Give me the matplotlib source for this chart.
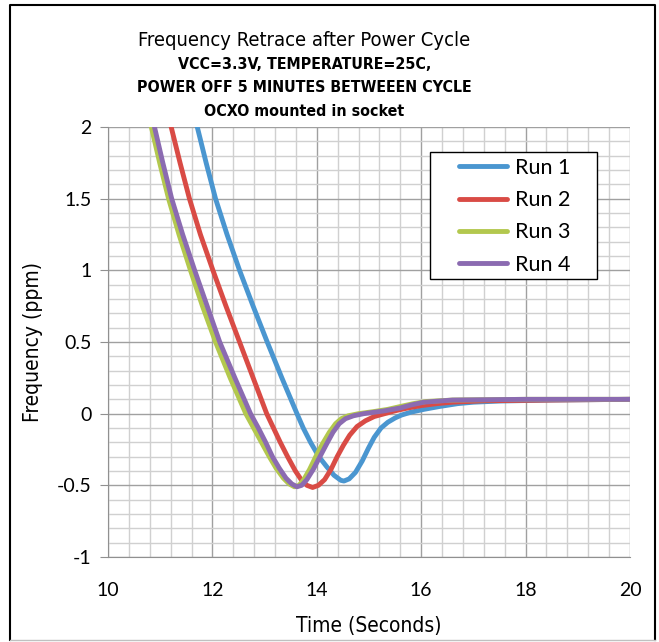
import matplotlib.pyplot as plt
from matplotlib.lines import Line2D
from matplotlib.patches import Rectangle
from matplotlib.ticker import MultipleLocator

# data (time in s, frequency in ppm)
t_run1 = [11.55, 11.71, 11.88, 12.06, 12.28, 12.52, 12.78, 13.05, 13.33, 13.62,
          13.74, 13.88, 14.04, 14.19, 14.33, 14.46, 14.52, 14.62, 14.74, 14.87,
          14.99, 15.10, 15.23, 15.36, 15.50, 15.62, 15.80, 16.05, 16.35, 16.70,
          17.0, 17.5, 18.5, 20.0]
f_run1 = [2.25, 2.0, 1.75, 1.5, 1.25, 1.0, 0.75, 0.5, 0.25, 0.0,
          -0.1, -0.2, -0.3, -0.37, -0.43, -0.465, -0.47, -0.455, -0.41, -0.33,
          -0.24, -0.165, -0.10, -0.06, -0.03, -0.01, 0.01, 0.03, 0.05, 0.07,
          0.08, 0.088, 0.095, 0.1]

t_run2 = [11.05, 11.21, 11.38, 11.56, 11.77, 12.01, 12.26, 12.52, 12.78, 13.04,
          13.17, 13.30, 13.44, 13.59, 13.70, 13.81, 13.92, 14.03, 14.15, 14.27,
          14.39, 14.51, 14.63, 14.77, 14.93, 15.10, 15.30, 15.50, 15.75, 16.0,
          16.3, 16.6, 17.2, 18.5, 20.0]
f_run2 = [2.25, 2.0, 1.75, 1.5, 1.25, 1.0, 0.75, 0.5, 0.25, 0.0,
          -0.1, -0.2, -0.3, -0.4, -0.46, -0.5, -0.515, -0.5, -0.46, -0.39,
          -0.30, -0.22, -0.15, -0.09, -0.05, -0.02, 0.0, 0.02, 0.04, 0.056,
          0.07, 0.08, 0.09, 0.095, 0.1]

t_run3 = [10.67, 10.83, 10.99, 11.16, 11.36, 11.58, 11.81, 12.06, 12.34, 12.64,
          12.79, 12.94, 13.09, 13.22, 13.36, 13.47, 13.57, 13.66, 13.75, 13.86,
          13.98, 14.11, 14.24, 14.36, 14.47, 14.60, 14.80, 15.10, 15.36, 15.60,
          15.85, 16.1, 16.6, 18.0, 20.0]
f_run3 = [2.25, 2.0, 1.75, 1.5, 1.25, 1.0, 0.75, 0.5, 0.25, 0.0,
          -0.1, -0.2, -0.3, -0.38, -0.45, -0.49, -0.51, -0.5, -0.46, -0.39,
          -0.3, -0.21, -0.13, -0.07, -0.035, -0.015, 0.0, 0.015, 0.03, 0.05,
          0.07, 0.085, 0.095, 0.1, 0.1]

t_run4 = [10.73, 10.89, 11.05, 11.22, 11.43, 11.66, 11.90, 12.14, 12.43, 12.73,
          12.88, 13.02, 13.15, 13.28, 13.41, 13.52, 13.62, 13.71, 13.81, 13.93,
          14.06, 14.19, 14.31, 14.43, 14.55, 14.70, 14.90, 15.30, 15.60, 15.80,
          16.05, 16.6, 18.0, 20.0]
f_run4 = [2.25, 2.0, 1.75, 1.5, 1.25, 1.0, 0.75, 0.5, 0.25, 0.0,
          -0.1, -0.2, -0.3, -0.38, -0.45, -0.49, -0.51, -0.5, -0.46, -0.39,
          -0.3, -0.21, -0.13, -0.07, -0.035, -0.015, 0.0, 0.02, 0.04, 0.06,
          0.08, 0.095, 0.1, 0.1]

labels = ['Run 1', 'Run 2', 'Run 3', 'Run 4']
colors = ['#4A96D0', '#D94B45', '#B3C84E', '#8B6BB1']

narrow = ['DejaVu Sans', 'Liberation Sans']
tickfont = ['Lato', 'DejaVu Sans']

fig = plt.figure(figsize=(6.59, 6.42), dpi=100)
ax = fig.add_axes([0.1639, 0.1324, 0.7921, 0.6698])

series = [(t_run1, f_run1), (t_run2, f_run2), (t_run3, f_run3), (t_run4, f_run4)]
for (t, f), lab, c in zip(series, labels, colors):
    ax.plot(t, f, color=c, lw=3.5, label=lab, solid_capstyle='round',
            solid_joinstyle='round', zorder=3)

ax.set_xlim(10, 20)
ax.set_ylim(-1, 2)
ax.xaxis.set_major_locator(MultipleLocator(2))
ax.xaxis.set_minor_locator(MultipleLocator(0.4))
ax.yaxis.set_major_locator(MultipleLocator(0.5))
ax.yaxis.set_minor_locator(MultipleLocator(0.1))
ax.set_yticks([2, 1.5, 1, 0.5, 0, -0.5, -1])
ax.set_yticklabels(['2', '1.5', '1', '0.5', '0', '-0.5', '-1'])

ax.grid(which='major', color='#a0a0a0', lw=1.0)
ax.grid(which='minor', color='#d0d0d0', lw=1.0)
ax.set_axisbelow(True)
for s in ['top', 'right']:
    ax.spines[s].set_visible(False)
for s in ['left', 'bottom']:
    ax.spines[s].set_color('#909090')

ax.tick_params(axis='y', which='major', length=6, color='#909090', pad=6, labelsize=14)
ax.tick_params(axis='x', which='major', length=0, pad=18, labelsize=14)
ax.tick_params(which='minor', length=0)
for lbl in ax.get_xticklabels() + ax.get_yticklabels():
    lbl.set_family(tickfont)

ax.set_xlabel('Time (Seconds)', family=narrow, fontstretch='condensed', fontsize=15,
              labelpad=12)
ax.set_ylabel('Frequency (ppm)', family=narrow, fontstretch='condensed', fontsize=15,
              labelpad=10)

# legend box drawn by hand so the padding matches
ax.add_patch(Rectangle((0.6169, 0.6465), 0.3199, 0.2954, transform=ax.transAxes,
                       facecolor='white', edgecolor='black', lw=1.0, zorder=4))
handles = [Line2D([], [], color=c, lw=3.5, solid_capstyle='round') for c in colors]
leg = ax.legend(handles, labels, loc='upper left', bbox_to_anchor=(0.672, 0.928),
                borderaxespad=0, borderpad=0, frameon=False,
                handlelength=2.25, handletextpad=0.35, labelspacing=0.57,
                prop={'family': tickfont, 'size': 15.5})
leg.set_zorder(5)

fig.text(0.462, 0.937, 'Frequency Retrace after Power Cycle', ha='center', va='center',
         family=narrow, fontstretch='condensed', fontsize=14.5)
fig.text(0.462, 0.899, 'VCC=3.3V, TEMPERATURE=25C,', ha='center', va='center',
         family=narrow, fontstretch='condensed', fontsize=11.4, weight='bold')
fig.text(0.462, 0.863, 'POWER OFF 5 MINUTES BETWEEEN CYCLE', ha='center', va='center',
         family=narrow, fontstretch='condensed', fontsize=11.4, weight='bold')
fig.text(0.462, 0.827, 'OCXO mounted in socket', ha='center', va='center',
         family=narrow, fontstretch='condensed', fontsize=11.4, weight='bold')

# chart frame
fig.add_artist(Line2D([0.015, 0.015, 0.994, 0.994], [0.003, 0.992, 0.992, 0.003],
                      transform=fig.transFigure, color='black', lw=1.5))
fig.add_artist(Line2D([0.015, 0.994], [0.003, 0.003], transform=fig.transFigure,
                      color='#c0c0c0', lw=1.0))

fig.savefig('out.png', dpi=100)
